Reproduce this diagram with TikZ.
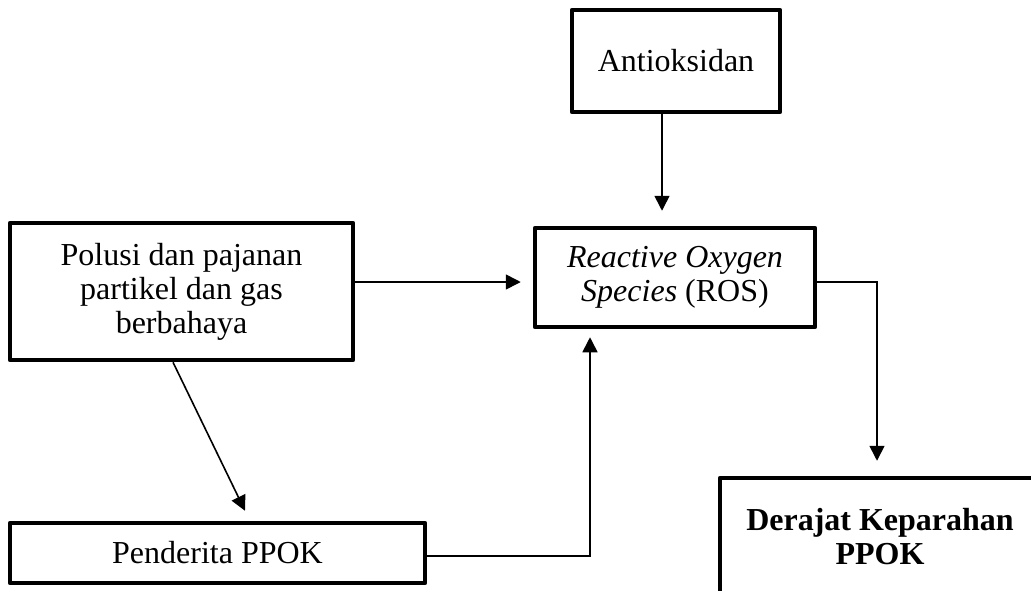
\documentclass[tikz,border=0pt]{standalone}
\usepackage{fontspec}
\setmainfont{Liberation Serif}
\usetikzlibrary{arrows.meta}

\begin{document}
\begin{tikzpicture}
  [x=1pt,y=-1pt,
   box/.style={rectangle, draw, line width=4.5pt, line join=round, align=center,
     inner sep=0pt, font=\fontsize{32}{34}\selectfont},
   conn/.style={line width=1.6pt, -{Triangle[length=15pt,width=15pt]}}]
  \useasboundingbox (0,0) rectangle (1031,590);
  \clip (0,0) rectangle (1031,590);

  \node[box, minimum width=208pt, minimum height=102pt] (anti) at (676,61) {Antioksidan};
  \node[box, minimum width=343pt, minimum height=137pt] (polusi) at (181.5,291.5)
    {Polusi dan pajanan\\partikel dan gas\\berbahaya};
  \node[box, minimum width=280pt, minimum height=99pt] (ros) at (675,277.5)
    {\textit{Reactive Oxygen}\\\textit{Species} (ROS)};
  \node[box, minimum width=415pt, minimum height=60pt] (pend) at (217.5,553) {Penderita PPOK};
  \node[box, minimum width=320pt, minimum height=118pt] (deraj) at (880,537)
    {\textbf{Derajat Keparahan}\\\textbf{PPOK}};

  \draw[conn] ([xshift=-14pt]anti.south) -- ([xshift=-13pt,yshift=15pt]ros.north);
  \draw[conn] ([yshift=9.5pt]polusi.east) -- ([xshift=-12pt,yshift=-4.5pt]ros.west);
  \draw[conn] ([yshift=-4.5pt]ros.east) -| ([xshift=-3pt,yshift=15pt]deraj.north);
  \draw[conn] ([xshift=-8.5pt]polusi.south) -- ([xshift=27.5pt,yshift=10pt]pend.north);
  \draw[conn] ([yshift=-3pt]pend.east) -| ([xshift=-85pt,yshift=-8pt]ros.south);
\end{tikzpicture}
\end{document}
